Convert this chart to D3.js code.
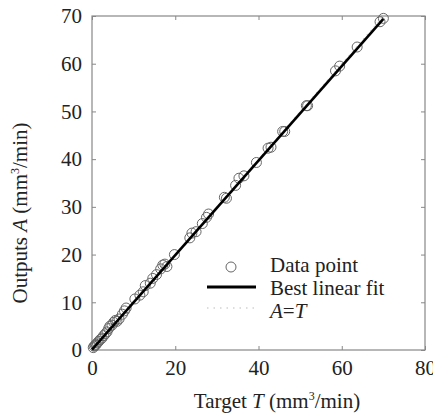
<!DOCTYPE html>
<html>
<head>
<meta charset="utf-8">
<script src="https://cdn.jsdelivr.net/npm/d3@7"></script>
<style>
  body { margin: 0; background: #fff; }
  text { font-family: "Liberation Serif", "Times New Roman", serif; fill: #222; }
</style>
</head>
<body>
<svg width="433" height="415"></svg>
<script>
// target T values and measured outputs A (mm3/min)
var targetT = [0.3, 0.5, 0.8, 1.0, 1.3, 1.6, 2.0, 2.4, 2.8, 3.2, 3.6, 4.0, 4.3, 4.8, 5.2, 5.6, 6.0, 6.5, 7.3, 7.8, 8.2,
  10.3, 11.5, 12.3, 12.8, 14.0, 14.6, 15.5, 16.5, 17.0, 17.5, 18.0, 19.8, 23.5, 24.0, 25.0, 26.5, 27.5, 28.0,
  31.8, 32.3, 34.5, 35.3, 36.5, 39.5, 42.3, 43.0, 45.8, 46.3, 51.5, 51.8, 58.5, 59.5, 63.7, 69.2, 70.0];
var outputA = [0.5, 0.8, 1.0, 1.2, 1.5, 1.8, 2.2, 2.5, 3.0, 3.4, 3.8, 4.5, 5.0, 5.2, 5.8, 6.2, 6.0, 6.5, 7.5, 8.2, 8.8,
  10.7, 11.5, 12.2, 13.5, 14.0, 15.0, 15.8, 17.0, 17.8, 18.0, 17.5, 20.0, 23.5, 24.5, 24.8, 26.5, 27.8, 28.5,
  32.0, 31.8, 34.5, 36.0, 36.5, 39.3, 42.3, 42.5, 45.8, 45.8, 51.2, 51.2, 58.5, 59.5, 63.5, 68.8, 69.5];
var fitLine = [[0, 0.1], [70, 69.4]];
var identityLine = [[0, 0], [70, 70]];
var xTicks = [0, 20, 40, 60, 80];
var yTicks = [0, 10, 20, 30, 40, 50, 60, 70];
var legendItems = ["Data point", "Best linear fit", "A=T"];

var svg = d3.select("svg"),
    margin = {top: 16, right: 8, bottom: 65, left: 92},
    width = 433 - margin.left - margin.right,
    height = 415 - margin.top - margin.bottom,
    g = svg.append("g").attr("transform", "translate(" + margin.left + "," + margin.top + ")");

var x = d3.scaleLinear().domain([0, 80]).range([0, width]),
    y = d3.scaleLinear().domain([0, 70]).range([height, 0]);

var line = d3.line()
    .x(function(d) { return x(d[0]); })
    .y(function(d) { return y(d[1]); });

var fs = "21px";

// axes, ticks inside on all four sides
function styleAxis(sel) {
  sel.select(".domain").remove();
  sel.selectAll(".tick line").attr("stroke", "#888");
  sel.selectAll(".tick text").style("font-size", fs).attr("fill", "#222")
    .style("font-family", "Liberation Serif, serif");
}

g.append("g").attr("transform", "translate(0," + height + ")")
  .call(d3.axisBottom(x).tickValues(xTicks).tickSize(-4).tickPadding(10).tickFormat(d3.format("d")))
  .call(styleAxis);
g.append("g").attr("transform", "translate(0,0)")
  .call(d3.axisTop(x).tickValues(xTicks).tickSize(-4).tickFormat(""))
  .call(styleAxis);
g.append("g")
  .call(d3.axisLeft(y).tickValues(yTicks).tickSize(-4).tickPadding(10).tickFormat(d3.format("d")))
  .call(styleAxis);
g.append("g").attr("transform", "translate(" + width + ",0)")
  .call(d3.axisRight(y).tickValues(yTicks).tickSize(-4).tickFormat(""))
  .call(styleAxis);

g.append("rect")
  .attr("width", width).attr("height", height)
  .attr("fill", "none").attr("stroke", "#888").attr("stroke-width", 1.2);

// A = T
g.append("path").datum(identityLine)
  .attr("d", line).attr("fill", "none")
  .attr("stroke", "#bbb").attr("stroke-width", 1).attr("stroke-dasharray", "1.5,4");

// data points
g.selectAll(".pt")
  .data(targetT.map(function(t, i) { return [t, outputA[i]]; }))
  .enter().append("circle")
  .attr("class", "pt")
  .attr("cx", function(d) { return x(d[0]); })
  .attr("cy", function(d) { return y(d[1]); })
  .attr("r", 5)
  .attr("fill", "none").attr("stroke", "#666").attr("stroke-width", 1);

// best linear fit
g.append("path").datum(fitLine)
  .attr("d", line).attr("fill", "none")
  .attr("stroke", "#000").attr("stroke-width", 2.6);

// legend
var legend = svg.append("g").attr("transform", "translate(207,267)");
legend.append("circle").attr("cx", 24).attr("cy", 0).attr("r", 5)
  .attr("fill", "none").attr("stroke", "#666").attr("stroke-width", 1);
legend.append("line").attr("x1", 0).attr("x2", 49).attr("y1", 20).attr("y2", 20)
  .attr("stroke", "#000").attr("stroke-width", 3);
legend.append("line").attr("x1", 0).attr("x2", 48).attr("y1", 41).attr("y2", 41)
  .attr("stroke", "#bbb").attr("stroke-width", 1).attr("stroke-dasharray", "1.5,5");

legend.selectAll(".lg")
  .data(legendItems)
  .enter().append("text")
  .attr("x", 63)
  .attr("y", function(d, i) { return i * 23 + 5; })
  .style("font-size", fs)
  .each(function(d) {
    var t = d3.select(this);
    if (d === "A=T") {
      t.append("tspan").style("font-style", "italic").text("A");
      t.append("tspan").text("=");
      t.append("tspan").style("font-style", "italic").text("T");
    } else {
      t.text(d);
    }
  });

// axis titles
var xl = svg.append("text")
  .attr("x", 277)
  .attr("y", 408)
  .attr("text-anchor", "middle")
  .style("font-size", fs);
xl.append("tspan").text("Target ");
xl.append("tspan").style("font-style", "italic").text("T");
xl.append("tspan").text(" (mm");
xl.append("tspan").attr("dy", -8).style("font-size", "12px").text("3");
xl.append("tspan").attr("dy", 8).text("/min)");

var yl = svg.append("text")
  .attr("transform", "translate(27,213) rotate(-90)")
  .attr("text-anchor", "middle")
  .style("font-size", fs);
yl.append("tspan").text("Outputs ");
yl.append("tspan").style("font-style", "italic").text("A");
yl.append("tspan").text(" (mm");
yl.append("tspan").attr("dy", -8).style("font-size", "12px").text("3");
yl.append("tspan").attr("dy", 8).text("/min)");
</script>
</body>
</html>
